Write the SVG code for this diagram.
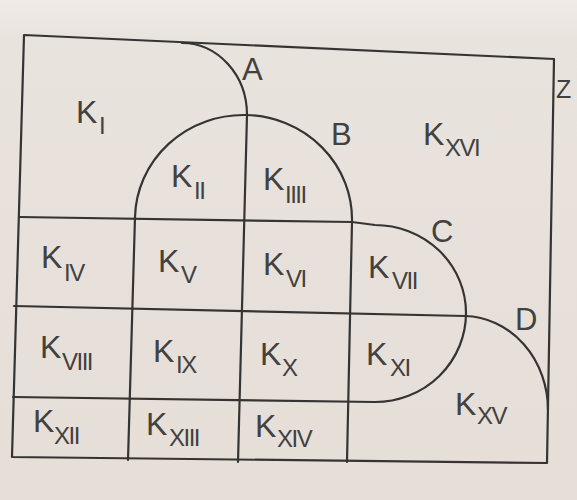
<svg xmlns="http://www.w3.org/2000/svg" width="577" height="500" viewBox="0 0 577 500">
<defs>
<linearGradient id="paper" x1="0" y1="0" x2="0" y2="1">
<stop offset="0" stop-color="#efebe7"/>
<stop offset="0.08" stop-color="#e9e3de"/>
<stop offset="1" stop-color="#e6ded7"/>
</linearGradient>
</defs>
<style>
.ln{fill:none;stroke:#353433;stroke-width:2.2;stroke-linecap:round;stroke-linejoin:round}
.k{font-family:"Liberation Sans",Arial,sans-serif;font-size:32px;fill:#424140}
.s{font-family:"Liberation Sans",Arial,sans-serif;font-size:24px;letter-spacing:-1.5px;fill:#424140}
.lb{font-family:"Liberation Sans",Arial,sans-serif;font-size:31px;fill:#424140}
</style>
<rect x="0" y="0" width="577" height="500" fill="url(#paper)"/>
<g id="connectors">
<path class="ln" d="M24,35 L554,59 L547,463 L12,457 Z"/>
<path class="ln" d="M182,43 A65,72 0 0 1 247,115"/>
<path class="ln" d="M135,217 A108,104 0 0 1 352,222"/>
<path class="ln" d="M19,217 L352,222 L375,225 A91,88 0 0 1 466,313 A91,89 0 0 1 375,402 L13,397"/>
<path class="ln" d="M14,306 L465,316 A85,94 0 0 1 548,410"/>
<path class="ln" d="M135,217 L128,460"/>
<path class="ln" d="M247,115 L238,462"/>
<path class="ln" d="M352,222 L347,462"/>
</g>
<g id="K_I"><text class="k" x="76" y="123">K</text><text class="s" x="99" y="134">I</text></g>
<g id="K_II"><text class="k" x="171" y="187">K</text><text class="s" x="194" y="199">II</text></g>
<g id="K_IIII"><text class="k" x="263" y="190">K</text><text class="s" x="285" y="203">IIII</text></g>
<g id="K_XVI"><text class="k" x="423" y="145">K</text><text class="s" x="445" y="156">XVI</text></g>
<g id="K_IV"><text class="k" x="41" y="268">K</text><text class="s" x="64" y="281">IV</text></g>
<g id="K_V"><text class="k" x="158" y="272">K</text><text class="s" x="181" y="283">V</text></g>
<g id="K_VI"><text class="k" x="263" y="275">K</text><text class="s" x="286" y="287">VI</text></g>
<g id="K_VII"><text class="k" x="368" y="278">K</text><text class="s" x="392" y="289">VII</text></g>
<g id="K_VIII"><text class="k" x="40" y="358">K</text><text class="s" x="62" y="370">VIII</text></g>
<g id="K_IX"><text class="k" x="153" y="362">K</text><text class="s" x="176" y="373">IX</text></g>
<g id="K_X"><text class="k" x="260" y="365">K</text><text class="s" x="282" y="376">X</text></g>
<g id="K_XI"><text class="k" x="366" y="365">K</text><text class="s" x="390" y="376">XI</text></g>
<g id="K_XII"><text class="k" x="33" y="432">K</text><text class="s" x="54" y="444">XII</text></g>
<g id="K_XIII"><text class="k" x="146" y="435">K</text><text class="s" x="169" y="446">XIII</text></g>
<g id="K_XIV"><text class="k" x="255" y="437">K</text><text class="s" x="277" y="447">XIV</text></g>
<g id="K_XV"><text class="k" x="455" y="415">K</text><text class="s" x="477" y="424">XV</text></g>
<g id="A"><text class="lb" x="242" y="80">A</text></g>
<g id="B"><text class="lb" x="331" y="145">B</text></g>
<g id="C"><text class="lb" x="431" y="242">C</text></g>
<g id="D"><text class="lb" x="515" y="330">D</text></g>
<g id="Z"><text class="lb" x="556" y="98" style="font-size:25px">Z</text></g>
</svg>
